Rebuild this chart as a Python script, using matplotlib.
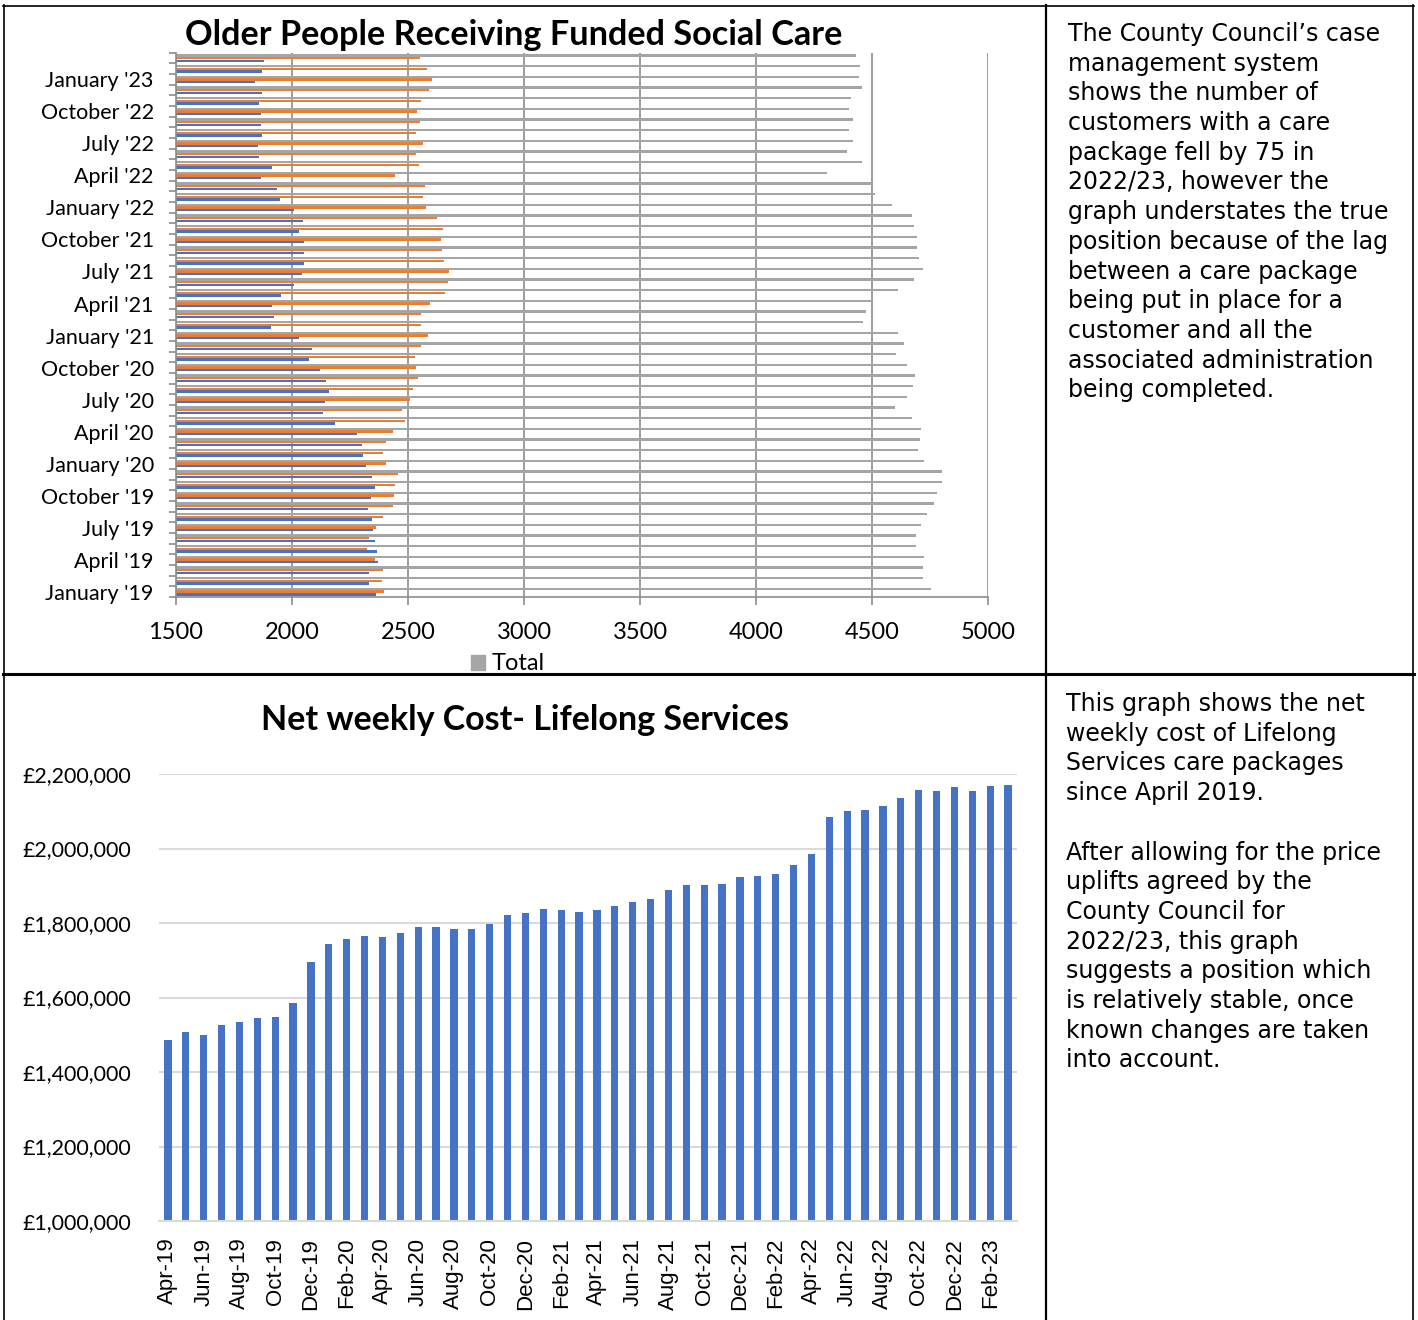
import matplotlib.pyplot as plt
import numpy as np
from matplotlib.lines import Line2D
from matplotlib.patches import Patch
from matplotlib.ticker import FuncFormatter

# --- top chart: customers with funded care (Jan '19 .. Mar '23) ---
months = ["January", "February", "March", "April", "May", "June", "July",
          "August", "September", "October", "November", "December"]
people_labels = [f"{months[i % 12]} '{19 + i // 12}" for i in range(51)]

blue = [2361, 2332, 2330, 2369, 2365, 2356, 2349, 2343, 2329, 2339, 2359, 2345,
        2319, 2308, 2300, 2279, 2187, 2132, 2141, 2160, 2147, 2121, 2075, 2085,
        2032, 1910, 1922, 1912, 1954, 2009, 2043, 2052, 2052, 2053, 2032, 2049,
        2009, 1948, 1934, 1865, 1912, 1859, 1853, 1869, 1865, 1865, 1858, 1869,
        1842, 1871, 1879]
orange = [2397, 2388, 2392, 2356, 2323, 2333, 2362, 2392, 2437, 2440, 2444, 2457,
          2407, 2391, 2405, 2437, 2486, 2473, 2510, 2520, 2542, 2533, 2532, 2555,
          2585, 2556, 2555, 2595, 2658, 2674, 2678, 2655, 2647, 2641, 2649, 2624,
          2578, 2565, 2573, 2443, 2547, 2534, 2566, 2534, 2552, 2539, 2555, 2589,
          2603, 2580, 2552]
total = [4756, 4718, 4721, 4722, 4691, 4688, 4711, 4736, 4766, 4779, 4803, 4803,
         4726, 4698, 4705, 4713, 4671, 4600, 4649, 4678, 4685, 4652, 4605, 4638,
         4613, 4462, 4475, 4506, 4611, 4682, 4720, 4704, 4695, 4692, 4679, 4671,
         4588, 4511, 4506, 4304, 4458, 4392, 4418, 4399, 4416, 4403, 4411, 4455,
         4443, 4450, 4431]

# --- bottom chart: net weekly cost (Apr-19 .. Mar-23) ---
short = ["Jan", "Feb", "Mar", "Apr", "May", "Jun", "Jul", "Aug", "Sep", "Oct", "Nov", "Dec"]
cost_labels = [f"{short[(i + 3) % 12]}-{19 + (i + 3) // 12}" for i in range(48)]
cost = [1484800, 1506200, 1500000, 1525000, 1533000, 1544600, 1546400, 1585700,
        1695500, 1744600, 1757100, 1766100, 1761600, 1772300, 1788400, 1790200,
        1784800, 1783000, 1797300, 1822300, 1826800, 1838400, 1834800, 1829500,
        1835700, 1845500, 1856200, 1864300, 1889300, 1902700, 1900900, 1905400,
        1923200, 1925000, 1931200, 1956200, 1983900, 2084800, 2100000, 2103600,
        2114300, 2134800, 2158000, 2155400, 2165200, 2153600, 2167900, 2170500]

text_top = ("The County Council\u2019s case\nmanagement system\nshows the number of\n"
            "customers with a care\npackage fell by 75 in\n2022/23, however the\n"
            "graph understates the true\nposition because of the lag\n"
            "between a care package\nbeing put in place for a\ncustomer and all the\n"
            "associated administration\nbeing completed.")
text_bottom = ("This graph shows the net\nweekly cost of Lifelong\nServices care packages\n"
               "since April 2019.\n\nAfter allowing for the price\nuplifts agreed by the\n"
               "County Council for\n2022/23, this graph\nsuggests a position which\n"
               "is relatively stable, once\nknown changes are taken\ninto account.")

W, H = 1418, 1320
CAL = ["Lato", "DejaVu Sans"]
fig = plt.figure(figsize=(W / 100, H / 100), dpi=100)

# top chart
ax1 = fig.add_axes([176 / W, 1 - 597 / H, 812 / W, 544.3 / H])
y = np.arange(len(total))
ax1.barh(y - 0.25, blue, height=0.22, color="#4472C4")
ax1.barh(y, orange, height=0.22, color="#ED7D31")
ax1.barh(y + 0.25, total, height=0.22, color="#A5A5A5")
ax1.set_xlim(1500, 5000)
ax1.set_ylim(-0.5, len(total) - 0.5)
ax1.set_xticks(np.arange(1500, 5001, 500))
ax1.set_axisbelow(True)
ax1.grid(axis="x", color="#8c8c8c", lw=1.2)
for s in ["top", "right"]:
    ax1.spines[s].set_visible(False)
for s in ["left", "bottom"]:
    ax1.spines[s].set_color("#8c8c8c")
    ax1.spines[s].set_linewidth(1.2)
ax1.set_yticks(y[::3])
ax1.set_yticklabels(people_labels[::3], fontsize=15.5, family=CAL)
ax1.set_yticks(np.arange(-0.5, len(total), 1), minor=True)
ax1.tick_params(axis="y", which="major", length=0, pad=16)
ax1.tick_params(axis="y", which="minor", length=5, color="#8c8c8c", width=1.2)
ax1.tick_params(axis="x", length=6, color="#8c8c8c", width=1.2, pad=12)
for t in ax1.get_xticklabels():
    t.set_fontsize(17)
    t.set_family(CAL)

fig.text(514 / W, 1 - 35 / H, "Older People Receiving Funded Social Care",
         ha="center", va="center", fontsize=24.7, fontweight="bold", family=CAL)
fig.legend(handles=[Patch(color="#A5A5A5")], labels=["Total"], loc="center",
           bbox_to_anchor=(508 / W, 1 - 664 / H), frameon=False, handlelength=0.6,
           handleheight=0.6, handletextpad=0.3, prop={"family": CAL, "size": 17})

# bottom chart
ax2 = fig.add_axes([159 / W, 1 - 1221 / H, 858 / W, 447 / H])
x = np.arange(len(cost))
ax2.bar(x, cost, width=0.41, color="#4472C4")
ax2.set_xlim(-0.5, len(cost) - 0.5)
ax2.set_ylim(1000000, 2200000)
ax2.set_yticks(np.arange(1000000, 2200001, 200000))
ax2.yaxis.set_major_formatter(FuncFormatter(lambda v, p: f"\u00a3{v:,.0f}"))
ax2.set_axisbelow(True)
ax2.grid(axis="y", color="#d9d9d9", lw=1.5)
for s in ["top", "right", "left"]:
    ax2.spines[s].set_visible(False)
ax2.spines["bottom"].set_color("#d9d9d9")
ax2.spines["bottom"].set_linewidth(1.5)
ax2.set_xticks(x[::2])
ax2.set_xticklabels(cost_labels[::2], rotation=90, fontsize=16, family="Liberation Sans")
ax2.tick_params(axis="x", length=0, pad=12)
ax2.tick_params(axis="y", length=0, pad=20)
for t in ax2.get_yticklabels():
    t.set_fontsize(15.4)
    t.set_family(CAL)

fig.text(525 / W, 1 - 720 / H, "Net weekly Cost- Lifelong Services",
         ha="center", va="center", fontsize=24.5, fontweight="bold", family=CAL)

# side notes
fig.text(1068 / W, 1 - 22 / H, text_top, ha="left", va="top", fontsize=17,
         family="DejaVu Sans", linespacing=1.30)
fig.text(1066 / W, 1 - 692 / H, text_bottom, ha="left", va="top", fontsize=17,
         family="DejaVu Sans", linespacing=1.30)

# table borders
def line(x0, y0, x1, y1, lw):
    fig.add_artist(Line2D([x0 / W, x1 / W], [1 - y0 / H, 1 - y1 / H],
                          transform=fig.transFigure, color="black", lw=lw))

line(3, 5.5, 1414, 5.5, 1.2)
line(3.5, 5, 3.5, H, 1.2)
line(1046, 5, 1046, H, 1.6)
line(1413, 5, 1413, H, 1.2)
line(3, 674, 1414, 674, 2.2)

fig.savefig("out.png", dpi=100)
